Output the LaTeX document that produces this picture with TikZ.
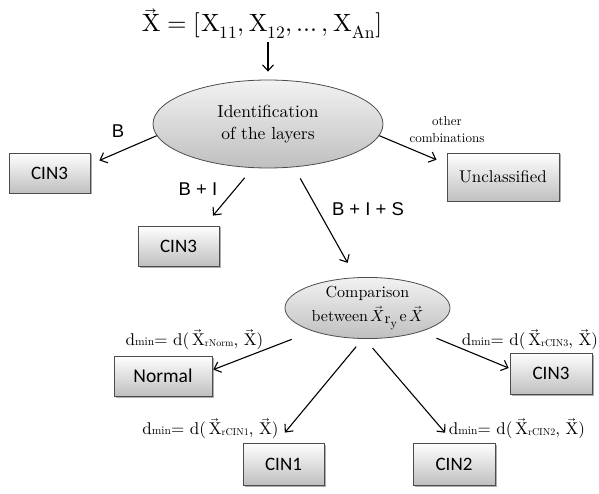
\documentclass[tikz,border=0pt]{standalone}
\usepackage{fontspec}
\usepackage{unicode-math}
\setmainfont{lmroman10-regular.otf}[ItalicFont=lmroman10-italic.otf, BoldFont=lmroman10-bold.otf]
\newfontfamily\calib{Carlito}
\newfontfamily\arialf{Liberation Sans}
\usetikzlibrary{arrows.meta,shapes.geometric,shadows}
\newcommand{\vX}{\vec{\mathrm{X}}}
\newcommand{\dlab}[1]{d{\fontsize{11.5}{11.5}\selectfont min}= d($\,\vX$\raisebox{-1pt}{\fontsize{10}{10}\selectfont #1}, $\vX$)}
\begin{document}
\begin{tikzpicture}[x=1pt,y=-1pt,
  arr/.style={line width=1.1pt, -{Straight Barb[length=6pt,width=11pt,line width=1.1pt]}},
  boxnode/.style={draw=black!70, line width=0.8pt, rectangle, top color=white, bottom color=black!25,
     inner sep=0pt, drop shadow={shadow xshift=1.5pt,shadow yshift=-1.5pt,opacity=0.45,fill=black!70}},
  ell/.style={draw=black!70, line width=0.8pt, ellipse, top color=black!5, bottom color=black!25,
     inner sep=0pt, align=center},
  sanslab/.style={font=\arialf\fontsize{18.5}{20}\selectfont},
  dlabel/.style={font=\fontsize{17}{20}\selectfont, inner sep=0pt}
]
\useasboundingbox (0,0) rectangle (599,494);

% formula
\node[anchor=base, inner sep=0pt] (formula) at (262,32)
  {\fontsize{25}{30}\selectfont $\vX = [\mathrm{X}_{11}, \mathrm{X}_{12}, \ldots , \mathrm{X}_{\mathrm{An}}]$};

% ellipses
\node[ell, minimum width=230pt, minimum height=88pt, font=\fontsize{17.5}{22}\selectfont] (e1) at (268,124)
  {Identification\\of the layers};
\node[ell, minimum width=165pt, minimum height=60pt, font=\fontsize{16}{24}\selectfont] (e2) at (367.5,308)
  {Comparison\\between\,$\vec{X}$\raisebox{-2pt}{\fontsize{15}{15}\selectfont r}\raisebox{-5.5pt}{\fontsize{12}{12}\selectfont y}\,e\,$\vec{X}$};

% boxes
\node[boxnode, minimum width=81pt, minimum height=40pt, font=\calib\fontsize{19}{22}\selectfont] (cin3a) at (49.5,173) {CIN3};
\node[boxnode, minimum width=81pt, minimum height=40pt, font=\calib\fontsize{19}{22}\selectfont] (cin3b) at (178.5,246) {CIN3};
\node[boxnode, minimum width=112pt, minimum height=48pt, font=\fontsize{17}{20}\selectfont] (uncl) at (503,177) {Unclassified};
\node[boxnode, minimum width=98pt, minimum height=40pt, font=\calib\fontsize{19.5}{22}\selectfont] (normal) at (163,376) {Normal};
\node[boxnode, minimum width=82pt, minimum height=41pt, font=\calib\fontsize{19}{22}\selectfont] (cin3c) at (551,373.5) {CIN3};
\node[boxnode, minimum width=81pt, minimum height=42pt, font=\calib\fontsize{19}{22}\selectfont] (cin1) at (283.5,464) {CIN1};
\node[boxnode, minimum width=82pt, minimum height=42pt, font=\calib\fontsize{19}{22}\selectfont] (cin2) at (454,464) {CIN2};

% labels
\node[sanslab] (lb) at (118,131) {B};
\node[sanslab] (lbi) at (198,189) {B + I};
\node[sanslab] (lbis) at (368,209) {B + I + S};
\node[font=\fontsize{13}{17}\selectfont, align=center] (lother) at (447,130) {other\\combinations};
\node[dlabel] (lnorm) at (194.5,340) {\dlab{rNorm}};
\node[dlabel] (lcin3) at (530,340) {\dlab{rCIN3}};
\node[dlabel] (lcin1) at (210.5,429) {\dlab{rCIN1}};
\node[dlabel] (lcin2) at (517,429) {\dlab{rCIN2}};

% connectors
\draw[arr, shorten <=4pt, shorten >=8pt] (e1.north |- formula.south) -- (e1.north);
\draw[arr, shorten >=9.8pt] (e1.186) -- (cin3a.12.5);
\draw[arr, shorten <=12.8pt, shorten >=13pt] (e1.251.3) -- (cin3b.38.7);
\draw[arr, shorten >=11pt] (e1.354.5) -- (uncl.167.4);
\draw[arr, shorten <=12.8pt, shorten >=16.6pt] (e1.301) -- (e2.111.3);
\draw[arr, shorten <=22.5pt, shorten >=1pt] (e2.203.3) -- (normal.7);
\draw[arr, shorten <=17pt, shorten >=1pt] (e2.336.6) -- (cin3c.173.7);
\draw[arr, shorten <=10pt, shorten >=13pt] (e2.261.8) -- (cin1.108);
\draw[arr, shorten <=12pt, shorten >=13pt] (e2.265) -- (cin2.91.6);
\end{tikzpicture}
\end{document}
